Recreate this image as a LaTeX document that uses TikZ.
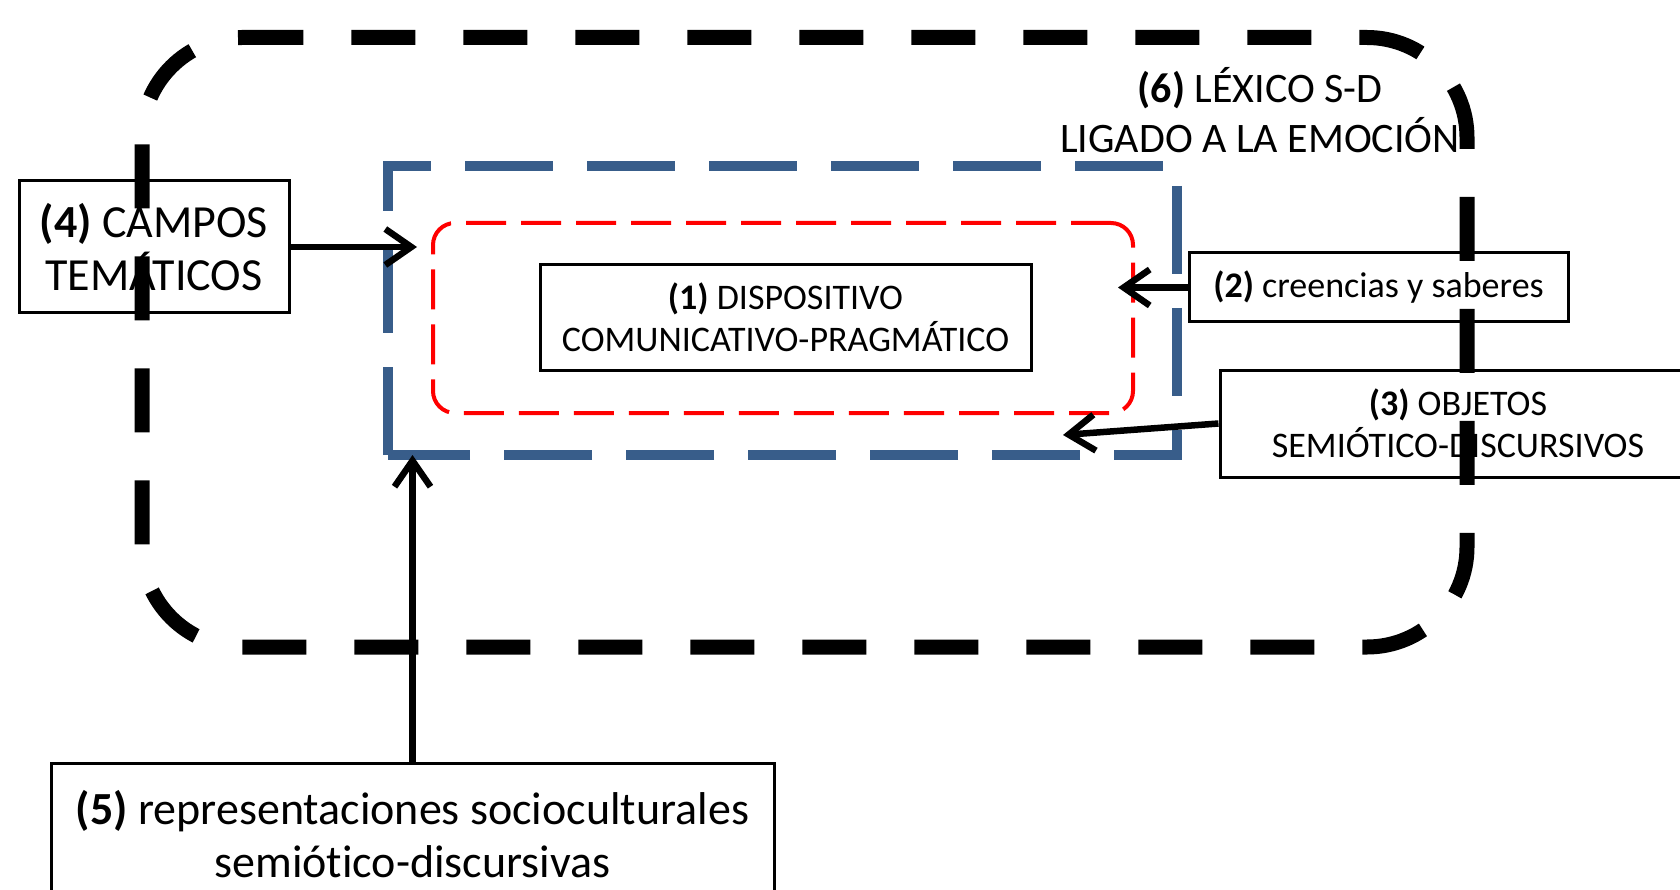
\documentclass[tikz,border=0pt]{standalone}
\usepackage{fontspec}
\setmainfont{Carlito}[Ligatures=NoCommon]
\usetikzlibrary{arrows.meta}
\definecolor{frameblue}{RGB}{56,93,138}

\tikzset{
  box/.style={rectangle, draw, line width=3pt, fill=white, inner sep=2pt, align=center},
  big/.style={font=\fontsize{46}{53}\selectfont},
  small/.style={font=\fontsize{36}{42}\selectfont},
  area/.style={rectangle, inner sep=0pt, outer sep=0pt},
  arr/.style={line width=6.5pt, -{Straight Barb[length=26pt,width=36pt]}}
}

\begin{document}
\begin{tikzpicture}[x=1pt,y=-1pt]
\useasboundingbox (0,0) rectangle (1680,890);

\node (b) at (782.5,310.5) [area, minimum width=789pt, minimum height=289pt] {};
\draw[line width=10pt, frameblue, dash pattern=on 88pt off 34pt] (b.south west) -- (b.north west) -- (b.north east) -- (b.south east) -- cycle;
\node (r) at (783,318) [area, draw=red, line width=4pt, dash pattern=on 40pt off 15pt, rounded corners=22pt, minimum width=700pt, minimum height=190pt] {};

\node (1) at (785.5,317.5) [box, small, minimum width=491pt, minimum height=105pt] {\textbf{(1)} DISPOSITIVO\\COMUNICATIVO-PRAGMÁTICO};
\node (2) at (1378.5,287.5) [box, small, minimum width=379pt, minimum height=69pt] {\textbf{(2)} creencias y saberes};
\node (3) at (1458,423.5) [box, small, minimum width=476pt, minimum height=107pt] {\textbf{(3)} OBJETOS\\SEMIÓTICO-DISCURSIVOS};
\node (4) at (154,247) [box, big, minimum width=270pt, minimum height=132pt] {\textbf{(4)} CAMPOS\\TEMÁTICOS};
\node (5) at (412.5,834) [box, big, minimum width=723pt, minimum height=142pt] {\textbf{(5)} representaciones socioculturales\\semiótico-discursivas};
\node (6) at (1260,110) [font=\fontsize{42}{50}\selectfont, align=center] {\textbf{(6)} LÉXICO S-D\\LIGADO A LA EMOCIÓN};

\coordinate (t4) at (417,247);
\coordinate (t2) at (1118,287.5);
\coordinate (t3) at (1063,435);
\draw[arr] (4.east) -- (t4);
\draw[arr] (2.west) -- (t2);
\draw[arr] (3.west) -- (t3);
\draw[arr] (5.north) -- (5.north |- b.south);

\node (f) at (804.5,342.25) [area, minimum width=1325pt, minimum height=609.5pt] {};
\draw[line width=15pt, dash pattern=on 64pt off 48pt, rounded corners=100pt] ([xshift=160pt]f.north west) -- (f.north west) -- (f.south west) -- (f.south east) -- (f.north east) -- ([xshift=160pt]f.north west);
\end{tikzpicture}
\end{document}
